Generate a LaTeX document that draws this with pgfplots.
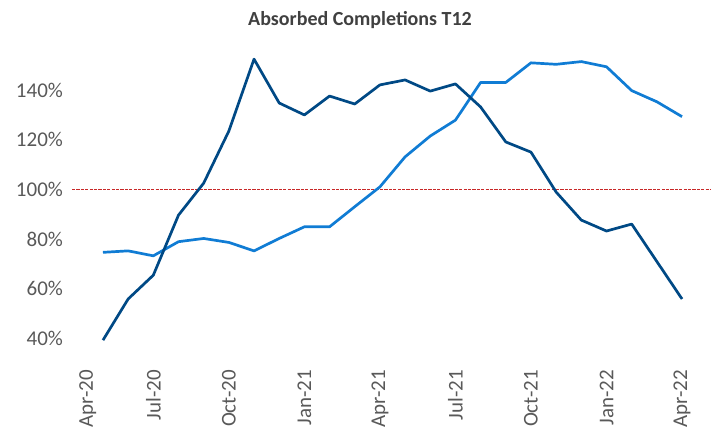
\documentclass[border=0pt]{standalone}
\usepackage{pgfplots}
\pgfplotsset{compat=1.18}
\usepackage{fontspec}
\setmainfont{Carlito}
\definecolor{darkline}{RGB}{0,73,133}
\definecolor{lightline}{RGB}{16,124,212}
\definecolor{refline}{RGB}{200,40,40}
\definecolor{ticktext}{RGB}{89,89,89}
\definecolor{titletext}{RGB}{64,64,64}
\begin{document}
\begin{tikzpicture}
\useasboundingbox (-36pt,-32.5pt) rectangle (324pt,181.5pt);
\begin{axis}[
  at={(0pt,0pt)}, anchor=south west,
  scale only axis,
  width=319.5pt, height=161.25pt,
  xmin=-0.23, xmax=25.15,
  ymin=30, ymax=160,
  axis line style={draw=none},
  major tick length=0pt,
  ytick={40,60,80,100,120,140},
  yticklabels={40\%,60\%,80\%,100\%,120\%,140\%},
  xtick={0.4,3,6,9,12,15,18,21,24},
  xticklabels={Apr-20,Jul-20,Oct-20,Jan-21,Apr-21,Jul-21,Oct-21,Jan-22,Apr-22},
  xticklabel style={rotate=90, anchor=east, font=\fontsize{10.5}{12}\selectfont, text=ticktext},
  yticklabel style={font=\fontsize{10.5}{12}\selectfont, text=ticktext, xshift=-1pt},
  clip=false,
]
\addplot[refline, line width=0.6pt, dash pattern=on 1.6pt off 0.6pt] coordinates {(-0.23,100) (25.15,100)};
\addplot[lightline, line width=1.35pt, line join=round] coordinates {
(1,74.6) (2,75.2) (3,73.2) (4,78.9) (5,80.2) (6,78.6) (7,75.2) (8,80.2) (9,84.9) (10,84.9)
(11,93.0) (12,101.0) (13,113.1) (14,121.5) (15,127.9) (16,143.1) (17,143.1) (18,151.0)
(19,150.4) (20,151.5) (21,149.4) (22,139.8) (23,135.3) (24,129.3)};
\addplot[darkline, line width=1.35pt, line join=round] coordinates {
(1,39.2) (2,55.8) (3,65.4) (4,89.6) (5,102.5) (6,123.5) (7,152.5) (8,134.8) (9,130.0)
(10,137.6) (11,134.4) (12,142.1) (13,144.1) (14,139.6) (15,142.5) (16,133.2) (17,119.1)
(18,115.0) (19,98.9) (20,87.6) (21,83.2) (22,86.0) (23,70.9) (24,55.8)};
\end{axis}
\node[font=\fontsize{10}{12}\selectfont\bfseries, text=titletext] at (144pt,171.5pt) {Absorbed Completions T12};
\end{tikzpicture}
\end{document}
